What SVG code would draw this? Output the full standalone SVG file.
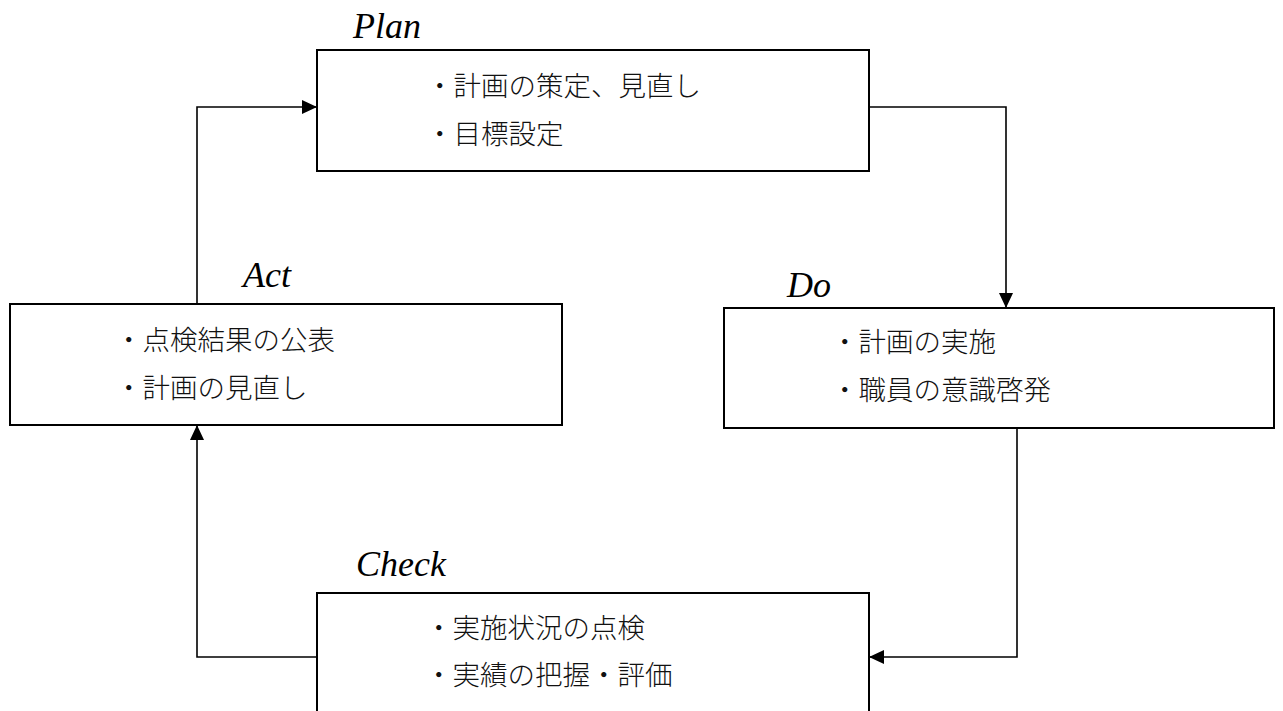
<svg xmlns="http://www.w3.org/2000/svg" width="1283" height="711" viewBox="0 0 1283 711">
<style>
.box{fill:#fff;stroke:#000;stroke-width:2}
.lbl{font-family:"Liberation Serif","Times New Roman",serif;font-style:italic;font-size:36px;fill:#000}
.txt{font-family:"Noto Sans CJK JP","Noto Sans CJK SC",sans-serif;font-size:27.5px;font-weight:300;fill:#111}
.con{fill:none;stroke:#000;stroke-width:1.6;marker-end:url(#arr)}
</style>
<defs>
<marker id="arr" viewBox="0 0 15 14" refX="15" refY="7" markerWidth="15" markerHeight="14" markerUnits="userSpaceOnUse" orient="auto">
<path d="M0,0 L15,7 L0,14 Z" fill="#000"/>
</marker>
</defs>
<rect width="1283" height="711" fill="#fff"/>
<g id="connectors">
<path class="con" d="M197,304 V107 H317"/>
<path class="con" d="M869,107 H1006 V308"/>
<path class="con" d="M1017,428 V657 H869"/>
<path class="con" d="M317,657 H197 V425"/>
</g>
<g id="plan">
<text class="lbl" x="353" y="38">Plan</text>
<rect class="box" x="317" y="50" width="552" height="121"/>
<text class="txt" x="426" y="96">・計画の策定、見直し</text>
<text class="txt" x="426" y="144">・目標設定</text>
</g>
<g id="do">
<text class="lbl" x="787" y="297">Do</text>
<rect class="box" x="724" y="308" width="550" height="120"/>
<text class="txt" x="831" y="352">・計画の実施</text>
<text class="txt" x="831" y="400">・職員の意識啓発</text>
</g>
<g id="check">
<text class="lbl" x="356" y="576">Check</text>
<rect class="box" x="317" y="593" width="552" height="140"/>
<text class="txt" x="425" y="638">・実施状況の点検</text>
<text class="txt" x="425" y="685">・実績の把握・評価</text>
</g>
<g id="act">
<text class="lbl" x="243" y="287">Act</text>
<rect class="box" x="10" y="304" width="552" height="121"/>
<text class="txt" x="115" y="350">・点検結果の公表</text>
<text class="txt" x="115" y="398">・計画の見直し</text>
</g>
</svg>
